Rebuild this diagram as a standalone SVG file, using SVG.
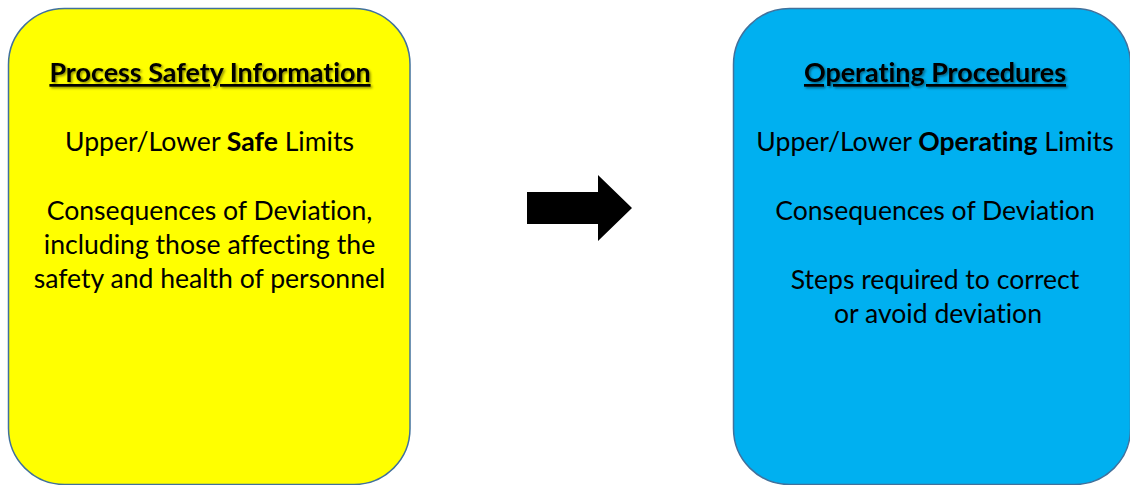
<svg xmlns="http://www.w3.org/2000/svg" width="1130" height="485" viewBox="0 0 1130 485">
  <style>
    .box { stroke: #41719C; stroke-width: 1.5; }
    .t { font-family: Lato, "Open Sans", "Liberation Sans", sans-serif; font-size: 26.6px; fill: #000; text-anchor: middle; font-variant-ligatures: none; }
    .h { font-weight: bold; text-decoration: underline; text-decoration-skip-ink: none; font-size: 26.9px; }
    .b { font-weight: bold; }
  </style>
  <defs>
    <filter id="sh" x="-5%" y="-30%" width="110%" height="160%">
      <feDropShadow dx="1.5" dy="1.5" stdDeviation="1" flood-color="#000" flood-opacity="0.45"/>
    </filter>
  </defs>
  <rect width="1130" height="485" fill="#fff"/>
  <g id="psi">
    <rect class="box" x="8.5" y="8.5" width="401.5" height="476" rx="56" ry="56" fill="#FFFF00"/>
    <text class="t h" x="210" y="82" filter="url(#sh)">Process Safety Information</text>
    <text class="t" x="209.5" y="151">Upper/Lower <tspan class="b">Safe</tspan> Limits</text>
    <text class="t" x="209.5" y="220">Consequences of Deviation,</text>
    <text class="t" x="209.5" y="254">including those affecting the</text>
    <text class="t" x="209.5" y="288">safety and health of personnel</text>
  </g>
  <g id="op">
    <rect class="box" x="733.5" y="8.5" width="397" height="476" rx="56" ry="56" fill="#00B0F0"/>
    <text class="t h" x="935" y="82" filter="url(#sh)">Operating Procedures</text>
    <text class="t" x="935" y="151">Upper/Lower <tspan class="b">Operating</tspan> Limits</text>
    <text class="t" x="935" y="220">Consequences of Deviation</text>
    <text class="t" x="935" y="289">Steps required to correct</text>
    <text class="t" x="938" y="323">or avoid deviation</text>
  </g>
  <g id="connectors">
    <polygon points="527,192 598,192 598,175 632,208 598,241 598,224 527,224" fill="#000"/>
  </g>
</svg>
